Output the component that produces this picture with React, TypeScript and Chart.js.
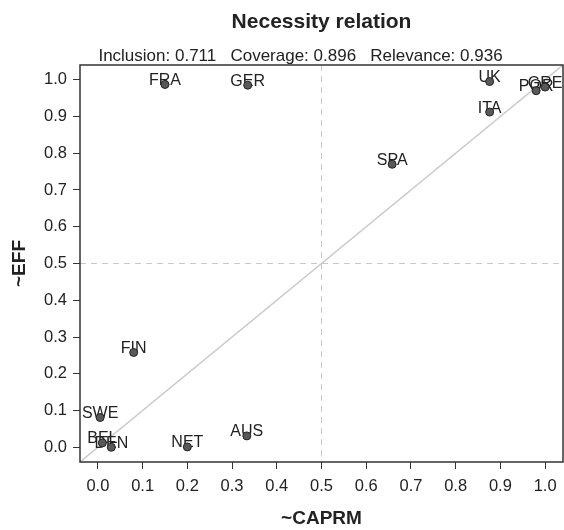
import React, { useEffect, useRef } from "react";
import { Chart, registerables } from "chart.js";

Chart.register(...registerables);

const COUNTRIES = ["FRA", "GER", "UK", "ITA", "POR", "GRE", "SPA", "FIN", "SWE", "BEL", "DEN", "NET", "AUS"];
const CAPRM_VALUES = [0.15, 0.335, 0.876, 0.876, 0.98, 1.0, 0.658, 0.08, 0.005, 0.01, 0.03, 0.2, 0.333];
const EFF_VALUES = [0.987, 0.985, 0.995, 0.912, 0.97, 0.98, 0.77, 0.258, 0.081, 0.012, 0.0, 0.001, 0.031];
const TICK_VALUES = [0, 0.1, 0.2, 0.3, 0.4, 0.5, 0.6, 0.7, 0.8, 0.9, 1.0];
const AXIS_MIN = -0.04;
const AXIS_MAX = 1.04;
const THRESHOLD = 0.5;
const TITLE = "Necessity relation";
const INCLUSION = 0.711;
const COVERAGE = 0.896;
const RELEVANCE = 0.936;
const X_TITLE = "~CAPRM";
const Y_TITLE = "~EFF";

const FONT = "'Liberation Sans', Arial, Helvetica, sans-serif";
const TEXT = "#222222";

const decorPlugin = {
  id: "decor",
  beforeDatasetsDraw(chart: any) {
    const { ctx, chartArea: ca, scales } = chart;
    const xs = scales.x;
    const ys = scales.y;
    ctx.save();
    ctx.beginPath();
    ctx.rect(ca.left, ca.top, ca.right - ca.left, ca.bottom - ca.top);
    ctx.clip();
    ctx.strokeStyle = "#c8c8c8";
    ctx.lineWidth = 1;
    ctx.setLineDash([6, 5]);
    const xm = xs.getPixelForValue(THRESHOLD);
    const ym = ys.getPixelForValue(THRESHOLD);
    ctx.beginPath();
    ctx.moveTo(xm, ca.top);
    ctx.lineTo(xm, ca.bottom);
    ctx.moveTo(ca.left, ym);
    ctx.lineTo(ca.right, ym);
    ctx.stroke();
    ctx.setLineDash([]);
    ctx.lineWidth = 1.5;
    ctx.strokeStyle = "#cccccc";
    ctx.beginPath();
    ctx.moveTo(xs.getPixelForValue(AXIS_MIN), ys.getPixelForValue(AXIS_MIN));
    ctx.lineTo(xs.getPixelForValue(AXIS_MAX), ys.getPixelForValue(AXIS_MAX));
    ctx.stroke();
    ctx.restore();

    const meta = chart.getDatasetMeta(0);
    ctx.save();
    ctx.font = `16px ${FONT}`;
    ctx.fillStyle = TEXT;
    ctx.textAlign = "center";
    ctx.textBaseline = "alphabetic";
    meta.data.forEach((el: any, i: number) => {
      ctx.fillText(COUNTRIES[i], el.x, el.y + 0.5);
    });
    ctx.restore();
  },
  afterDatasetsDraw(chart: any) {
    const { ctx, chartArea: ca } = chart;
    ctx.save();
    ctx.strokeStyle = "#333333";
    ctx.lineWidth = 1.5;
    ctx.strokeRect(ca.left, ca.top, ca.right - ca.left, ca.bottom - ca.top);
    ctx.restore();
  },
  afterDraw(chart: any) {
    const { ctx, chartArea: ca } = chart;
    const cx = (ca.left + ca.right) / 2;
    const cy = (ca.top + ca.bottom) / 2;
    ctx.save();
    ctx.fillStyle = TEXT;
    ctx.textAlign = "center";
    ctx.textBaseline = "middle";
    ctx.font = `bold 21px ${FONT}`;
    ctx.fillText(TITLE, cx, ca.top - 43);
    ctx.font = `17px ${FONT}`;
    ctx.fillText(
      `Inclusion: ${INCLUSION.toFixed(3)}   Coverage: ${COVERAGE.toFixed(3)}   Relevance: ${RELEVANCE.toFixed(3)}`,
      cx - 21,
      ca.top - 9
    );
    ctx.font = `bold 19px ${FONT}`;
    ctx.fillText(X_TITLE, cx, ca.bottom + 57);
    ctx.translate(20, cy);
    ctx.rotate(-Math.PI / 2);
    ctx.fillText(Y_TITLE, 0, 0);
    ctx.restore();
  },
};

export default function App() {
  const canvasRef = useRef<HTMLCanvasElement | null>(null);

  useEffect(() => {
    document.body.style.margin = "0";
    const canvas = canvasRef.current;
    if (!canvas) return;
    const setTicks = (axis: any) => {
      axis.ticks = TICK_VALUES.map((value) => ({ value }));
    };
    const chart = new Chart(canvas, {
      type: "scatter",
      data: {
        datasets: [
          {
            data: CAPRM_VALUES.map((x, i) => ({ x, y: EFF_VALUES[i] })),
            backgroundColor: "#595959",
            borderColor: "#222222",
            borderWidth: 1,
            pointRadius: 4,
          },
        ],
      },
      plugins: [decorPlugin],
      options: {
        responsive: false,
        animation: false,
        devicePixelRatio: 1,
        layout: { autoPadding: false, padding: { top: 65, right: 1, left: 0, bottom: 0 } },
        plugins: {
          legend: { display: false },
          tooltip: { enabled: false },
          title: { display: false },
        },
        scales: {
          x: {
            type: "linear",
            min: AXIS_MIN,
            max: AXIS_MAX,
            afterBuildTicks: setTicks,
            afterFit: (scale: any) => {
              scale.height = 68;
              scale.paddingLeft = 0;
              scale.paddingRight = 0;
            },
            border: { display: false },
            grid: {
              drawOnChartArea: false,
              drawTicks: true,
              tickLength: 7,
              tickColor: "#333333",
              lineWidth: 1,
            },
            ticks: {
              autoSkip: false,
              maxRotation: 0,
              padding: 8,
              color: TEXT,
              font: { family: FONT, size: 16.5 },
              callback: (v: any) => Number(v).toFixed(1),
            },
          },
          y: {
            type: "linear",
            min: AXIS_MIN,
            max: AXIS_MAX,
            afterBuildTicks: setTicks,
            afterFit: (scale: any) => {
              scale.width = 80;
              scale.paddingTop = 0;
              scale.paddingBottom = 0;
            },
            border: { display: false },
            grid: {
              drawOnChartArea: false,
              drawTicks: true,
              tickLength: 7,
              tickColor: "#333333",
              lineWidth: 1,
            },
            ticks: {
              autoSkip: false,
              padding: 6,
              color: TEXT,
              font: { family: FONT, size: 16.5 },
              callback: (v: any) => Number(v).toFixed(1),
            },
          },
        },
      },
    });
    return () => chart.destroy();
  }, []);

  return (
    <div style={{ position: "relative", width: 564, height: 530 }}>
      <canvas ref={canvasRef} width={564} height={530} style={{ display: "block" }} />
    </div>
  );
}
